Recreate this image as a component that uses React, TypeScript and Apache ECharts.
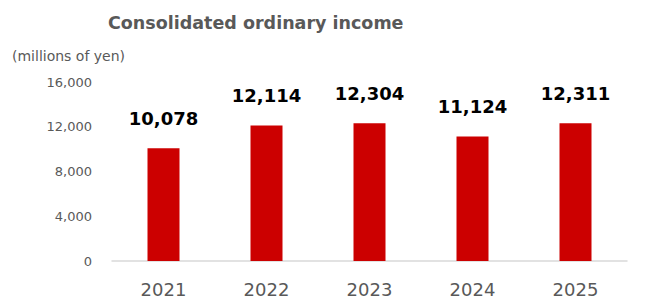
import React, { useEffect, useRef } from "react";
import * as echarts from "echarts";

const categories = ["2021", "2022", "2023", "2024", "2025"];
const values = [10078, 12114, 12304, 11124, 12311];
const yTicks = [0, 4000, 8000, 12000, 16000];
const title = "Consolidated ordinary income";
const unit = "(millions of yen)";

export default function App() {
  const ref = useRef<HTMLDivElement>(null);
  useEffect(() => {
    const chart = echarts.init(ref.current!, null, { renderer: "svg" });
    chart.setOption({
      animation: false,
      backgroundColor: "#ffffff",
      textStyle: { fontFamily: "DejaVu Sans" },
      title: [
        {
          text: title,
          left: 108,
          top: 14,
          padding: 0,
          textStyle: { fontSize: 17.5, fontWeight: "bold", color: "#595959", fontFamily: "DejaVu Sans" },
        },
        {
          text: unit,
          left: 12,
          top: 49,
          padding: 0,
          textStyle: { fontSize: 14, fontWeight: "normal", color: "#595959", fontFamily: "DejaVu Sans" },
        },
      ],
      grid: { left: 112, right: 21, top: 82, bottom: 34, containLabel: false },
      xAxis: {
        type: "category",
        data: categories,
        axisLine: { lineStyle: { color: "#d9d9d9", width: 1.5 } },
        axisTick: { show: false },
        axisLabel: { color: "#595959", fontSize: 18, margin: 19, fontFamily: "DejaVu Sans" },
      },
      yAxis: {
        type: "value",
        min: yTicks[0],
        max: yTicks[yTicks.length - 1],
        interval: 4000,
        splitLine: { show: false },
        axisLine: { show: false },
        axisTick: { show: false },
        axisLabel: {
          color: "#595959",
          fontSize: 13,
          margin: 20,
          fontFamily: "DejaVu Sans",
          formatter: (v: number) => v.toLocaleString("en-US"),
        },
      },
      series: [
        {
          type: "bar",
          data: values,
          barWidth: 32,
          itemStyle: { color: "#cc0000" },
          label: {
            show: true,
            position: "top",
            distance: 21,
            color: "#000000",
            fontSize: 18,
            fontWeight: "bold",
            fontFamily: "DejaVu Sans",
            formatter: (p: any) => Number(p.value).toLocaleString("en-US"),
          },
        },
      ],
    });
    return () => chart.dispose();
  }, []);
  return <div ref={ref} style={{ position: "fixed", left: 0, top: 0, width: 648, height: 298 }} />;
}
